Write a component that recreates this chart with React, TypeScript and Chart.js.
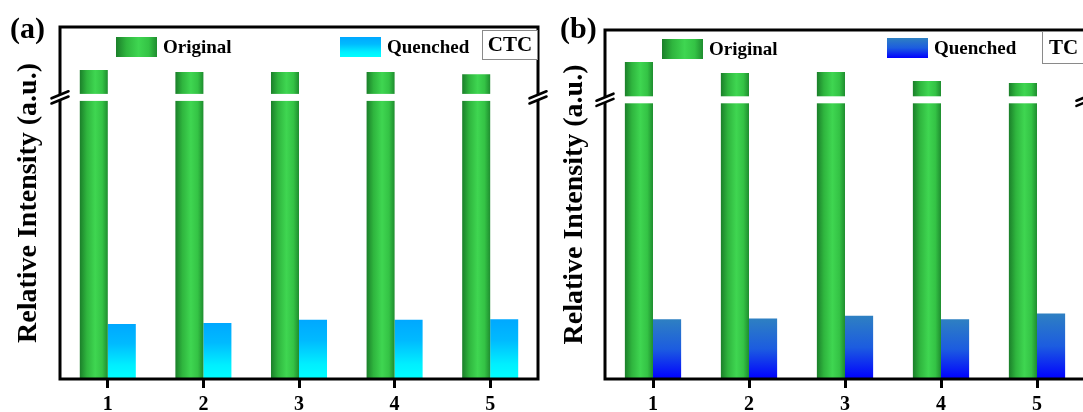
import React, { useEffect, useRef } from 'react';
import { Chart, registerables } from 'chart.js';

Chart.register(...registerables);

// Sample numbers along the x axis
const samples = ['1', '2', '3', '4', '5'];
const seriesNames = ['Original', 'Quenched'];
// Value at which the y axis is broken (drawn as a white gap)
const breakValue = 80;

// (a) CTC: relative intensity before / after quenching
const ctcOriginal = [87.8, 87.2, 87.2, 87.2, 86.6];
const ctcQuenched = [15.6, 15.9, 16.8, 16.8, 17.0];

// (b) TC: relative intensity before / after quenching
const tcOriginal = [90.8, 87.7, 88.0, 85.4, 84.8];
const tcQuenched = [17.1, 17.3, 18.1, 17.1, 18.8];

const SERIF = '"Liberation Serif", "Times New Roman", serif';
const CAT_PCT = 0.586;

type Stops = [number, string][];

const greenStops: Stops = [
  [0, '#1b7f2a'],
  [0.25, '#2fb53e'],
  [0.55, '#3fd651'],
  [0.8, '#34c345'],
  [1, '#1f8d2f'],
];
const cyanStops: Stops = [
  [0, '#00a8ff'],
  [0.35, '#00baff'],
  [0.75, '#00efff'],
  [1, '#00ffff'],
];
const blueStops: Stops = [
  [0, '#2e80c2'],
  [0.5, '#1c5ce0'],
  [1, '#0000ff'],
];

type PanelSpec = {
  tag: string;
  analyte: string;
  original: number[];
  quenched: number[];
  quenchedStops: Stops;
  left: number;
  width: number;
  padding: { left: number; right: number; top: number; bottom: number };
  yWidth: number;
  legend: { origDx: number; origY: number; quenDx: number; quenY: number };
  box: { dx: number; y: number; w: number; h: number; font: number };
};

const panels: PanelSpec[] = [
  {
    tag: '(a)',
    analyte: 'CTC',
    original: ctcOriginal,
    quenched: ctcQuenched,
    quenchedStops: cyanStops,
    left: 0,
    width: 550,
    padding: { left: 12, right: 12, top: 27, bottom: 0 },
    yWidth: 48,
    legend: { origDx: 56, origY: 37, quenDx: 280, quenY: 37 },
    box: { dx: -56, y: 30, w: 55, h: 29, font: 21 },
  },
  {
    tag: '(b)',
    analyte: 'TC',
    original: tcOriginal,
    quenched: tcQuenched,
    quenchedStops: blueStops,
    left: 550,
    width: 545,
    padding: { left: 8, right: 10, top: 30, bottom: 0 },
    yWidth: 47,
    legend: { origDx: 57, origY: 39, quenDx: 282, quenY: 38 },
    box: { dx: -43, y: 31, w: 42, h: 32, font: 21 },
  },
];

const ok = (...v: number[]) => v.every((n) => Number.isFinite(n));

function gradient(ctx: CanvasRenderingContext2D, x0: number, y0: number, x1: number, y1: number, stops: Stops) {
  const g = ctx.createLinearGradient(x0, y0, x1, y1);
  stops.forEach(([o, c]) => g.addColorStop(o, c));
  return g;
}

function greenFill(c: any) {
  const chart = c.chart;
  const xs = chart.scales && chart.scales.x;
  if (c.type !== 'data' || !xs) return greenStops[2][1];
  const cx = xs.getPixelForValue(c.dataIndex);
  const w = ((xs.width / samples.length) * CAT_PCT) / 2;
  if (!ok(cx, w) || w <= 0) return greenStops[2][1];
  return gradient(chart.ctx, cx - w, 0, cx, 0, greenStops);
}

function quenchedFill(stops: Stops) {
  return (c: any) => {
    const chart = c.chart;
    const ys = chart.scales && chart.scales.y;
    if (c.type !== 'data' || !ys) return stops[0][1];
    const top = ys.getPixelForValue(c.raw);
    const bottom = ys.getPixelForValue(0);
    if (!ok(top, bottom) || bottom - top <= 0) return stops[0][1];
    return gradient(chart.ctx, 0, top, 0, bottom, stops);
  };
}

// Axis-break mark: two slanted strokes with a white gap across the axis line
function drawBreak(ctx: CanvasRenderingContext2D, x: number, y: number) {
  const hx = 8.5;
  const hy = 3.5;
  const gap = 2.6;
  const k = (hy * 4) / hx;
  ctx.fillStyle = '#fff';
  ctx.beginPath();
  ctx.moveTo(x - 4, y - gap + k);
  ctx.lineTo(x + 4, y - gap - k);
  ctx.lineTo(x + 4, y + gap - k);
  ctx.lineTo(x - 4, y + gap + k);
  ctx.closePath();
  ctx.fill();
  ctx.strokeStyle = '#000';
  ctx.lineWidth = 2.6;
  ctx.lineCap = 'round';
  for (const d of [-gap, gap]) {
    ctx.beginPath();
    ctx.moveTo(x - hx, y + d + hy);
    ctx.lineTo(x + hx, y + d - hy);
    ctx.stroke();
  }
}

function overlayPlugin(spec: PanelSpec) {
  return {
    id: 'panelOverlay',
    afterDatasetsDraw(chart: any) {
      const { ctx, chartArea: a, scales } = chart;
      const yb = scales.y.getPixelForValue(breakValue);
      ctx.save();

      // white gap marking the broken axis range
      ctx.fillStyle = '#fff';
      ctx.fillRect(a.left, yb - 3.5, a.right - a.left, 7);

      // closed frame around the plot
      ctx.strokeStyle = '#000';
      ctx.lineWidth = 3;
      ctx.strokeRect(a.left, a.top, a.right - a.left, a.bottom - a.top);

      drawBreak(ctx, a.left, yb);
      drawBreak(ctx, a.right, yb);

      // legend
      const sw = 41;
      const sh = 20;
      ctx.font = `bold 19px ${SERIF}`;
      ctx.textBaseline = 'middle';
      ctx.textAlign = 'left';
      const ox = a.left + spec.legend.origDx;
      const oy = spec.legend.origY;
      ctx.fillStyle = gradient(ctx, ox, 0, ox + sw, 0, greenStops);
      ctx.fillRect(ox, oy, sw, sh);
      ctx.fillStyle = '#000';
      ctx.fillText(seriesNames[0], ox + sw + 6, oy + sh / 2 + 1);

      const qx = a.left + spec.legend.quenDx;
      const qy = spec.legend.quenY;
      ctx.fillStyle = gradient(ctx, 0, qy, 0, qy + sh, spec.quenchedStops);
      ctx.fillRect(qx, qy, sw, sh);
      ctx.fillStyle = '#000';
      ctx.fillText(seriesNames[1], qx + sw + 6, qy + sh / 2 + 1);

      // analyte label box
      const b = spec.box;
      const bx = a.right + b.dx;
      ctx.fillStyle = '#fff';
      ctx.fillRect(bx, b.y, b.w, b.h);
      ctx.strokeStyle = '#8a8a8a';
      ctx.lineWidth = 1;
      ctx.strokeRect(bx + 0.5, b.y + 0.5, b.w, b.h);
      ctx.fillStyle = '#000';
      ctx.font = `bold ${b.font}px ${SERIF}`;
      ctx.textAlign = 'center';
      ctx.fillText(spec.analyte, bx + b.w / 2 + 0.5, b.y + b.h / 2 + 1.5);

      // panel tag
      ctx.textAlign = 'left';
      ctx.font = `bold 30px ${SERIF}`;
      ctx.fillText(spec.tag, 10, 30);

      ctx.restore();
    },
  };
}

function Panel({ spec }: { spec: PanelSpec }) {
  const ref = useRef<HTMLCanvasElement>(null);

  useEffect(() => {
    if (!ref.current) return;
    const chart = new Chart(ref.current, {
      type: 'bar',
      data: {
        labels: samples,
        datasets: [
          {
            label: seriesNames[0],
            data: spec.original,
            backgroundColor: greenFill as any,
            borderWidth: 0,
            categoryPercentage: CAT_PCT,
            barPercentage: 1,
          },
          {
            label: seriesNames[1],
            data: spec.quenched,
            backgroundColor: quenchedFill(spec.quenchedStops) as any,
            borderWidth: 0,
            categoryPercentage: CAT_PCT,
            barPercentage: 1,
          },
        ],
      },
      options: {
        responsive: false,
        animation: false,
        layout: { padding: spec.padding },
        plugins: {
          legend: { display: false },
          tooltip: { enabled: false },
        },
        scales: {
          x: {
            grid: {
              display: true,
              drawOnChartArea: false,
              drawTicks: true,
              tickLength: 9,
              tickWidth: 3,
              lineWidth: 3,
              tickColor: '#000',
              color: '#000',
              offset: false,
            },
            border: { display: false },
            ticks: {
              color: '#000',
              padding: 5,
              font: { family: SERIF, size: 20, weight: 'bold' },
            },
            afterFit: (s: any) => {
              s.height = 33;
            },
          },
          y: {
            min: 0,
            max: 100,
            ticks: { display: false },
            grid: { display: false },
            border: { display: false },
            title: {
              display: true,
              text: 'Relative Intensity (a.u.)',
              color: '#000',
              padding: 0,
              font: { family: SERIF, size: 28, weight: 'bold' },
            },
            afterFit: (s: any) => {
              s.width = spec.yWidth;
            },
          },
        },
      } as any,
      plugins: [overlayPlugin(spec)],
    });
    return () => chart.destroy();
  }, [spec]);

  return (
    <canvas
      ref={ref}
      width={spec.width}
      height={412}
      style={{ position: 'absolute', left: spec.left, top: 0, width: spec.width, height: 412 }}
    />
  );
}

export default function App() {
  return (
    <div
      style={{
        position: 'fixed',
        left: 0,
        top: 0,
        width: 1083,
        height: 412,
        overflow: 'hidden',
        background: '#fff',
      }}
    >
      {panels.map((p) => (
        <Panel key={p.tag} spec={p} />
      ))}
    </div>
  );
}
